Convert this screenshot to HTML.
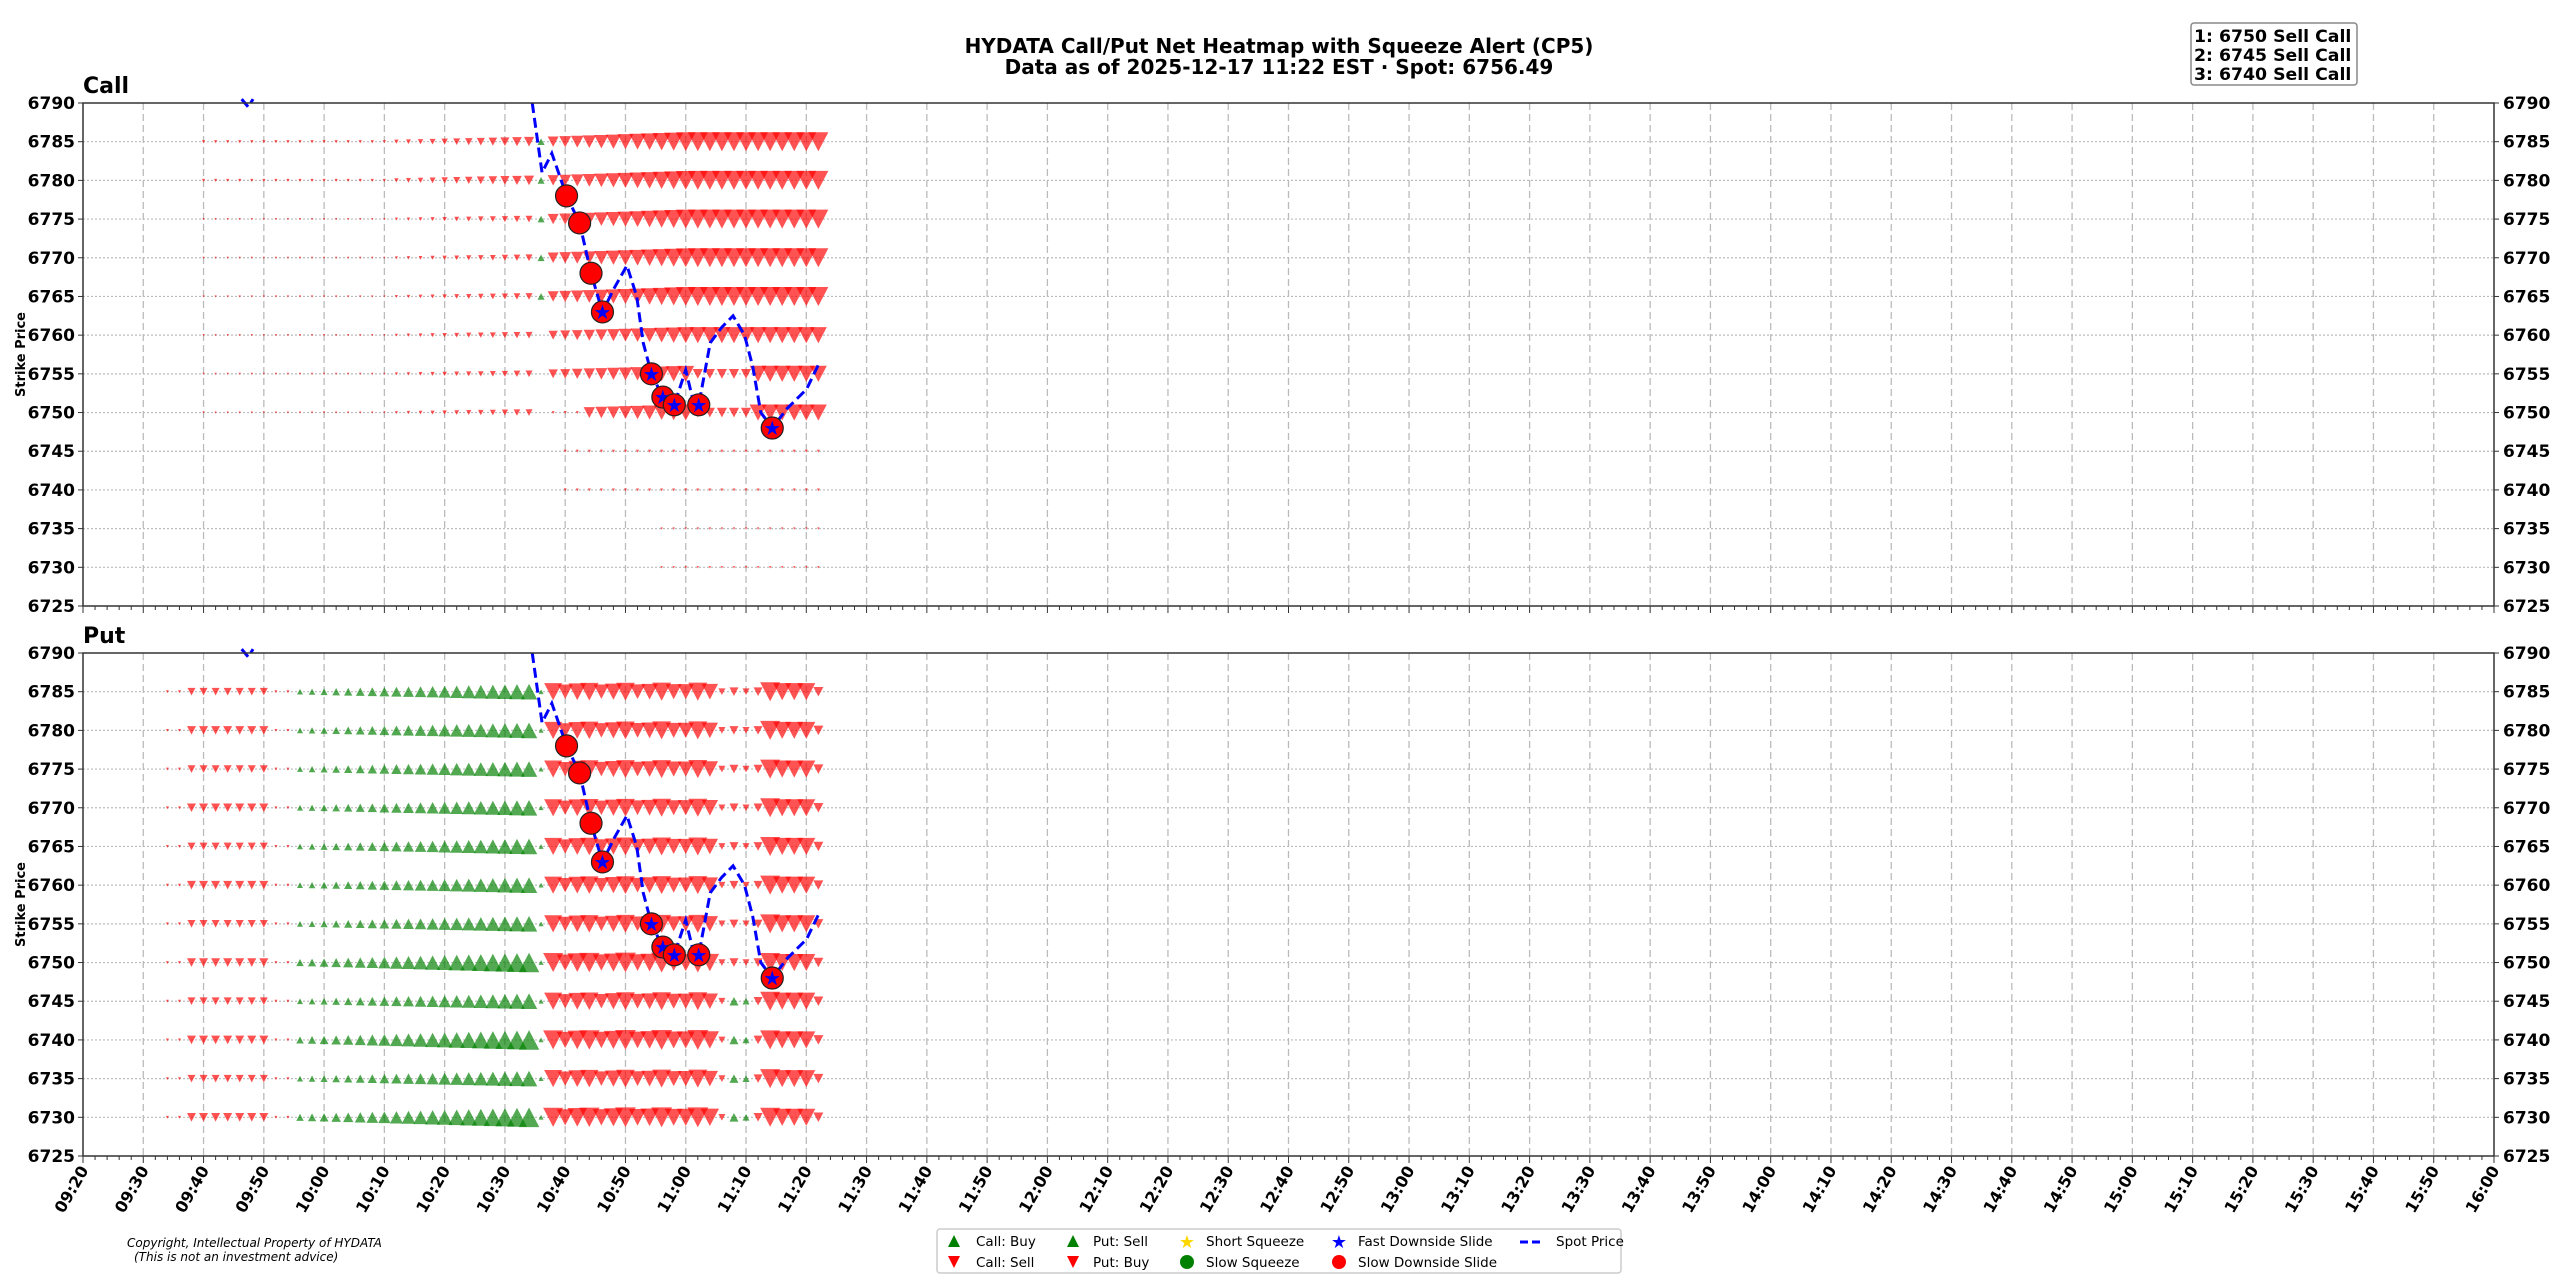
<!DOCTYPE html>
<html><head><meta charset="utf-8">
<style>
html,body{margin:0;padding:0;background:#fff;}
svg{display:block;font-family:"DejaVu Sans","Liberation Sans",sans-serif;}
</style></head>
<body>
<svg id="s" width="2560" height="1280" viewBox="0 0 2560 1280" xmlns="http://www.w3.org/2000/svg">
<rect width="2560" height="1280" fill="#fff"/>
<text x="1279" y="53" font-size="20" font-weight="bold" text-anchor="middle">HYDATA Call/Put Net Heatmap with Squeeze Alert (CP5)</text>
<text x="1279" y="74" font-size="20" font-weight="bold" text-anchor="middle">Data as of 2025-12-17 11:22 EST · Spot: 6756.49</text>
<rect x="2191" y="23" width="166" height="62" rx="3" fill="#fff" stroke="#888" stroke-width="1.5"/>
<text x="2194" y="42" font-size="17.3" font-weight="bold">1: 6750 Sell Call</text>
<text x="2194" y="61" font-size="17.3" font-weight="bold">2: 6745 Sell Call</text>
<text x="2194" y="80" font-size="17.3" font-weight="bold">3: 6740 Sell Call</text>
<g id="g"></g>
<text x="127" y="1247" font-size="12" font-style="italic">Copyright, Intellectual Property of HYDATA</text>
<text x="134" y="1261" font-size="12" font-style="italic">(This is not an investment advice)</text>
<rect x="937" y="1229" width="684" height="44" rx="3" fill="#fff" stroke="#ccc" stroke-width="1.5"/>
<g font-size="13.5">
<polygon points="954,1235 948,1247 960,1247" fill="green"/><text x="976" y="1246">Call: Buy</text>
<polygon points="948,1256 960,1256 954,1268" fill="red"/><text x="976" y="1267">Call: Sell</text>
<polygon points="1073,1235 1067,1247 1079,1247" fill="green"/><text x="1093" y="1246">Put: Sell</text>
<polygon points="1067,1256 1079,1256 1073,1268" fill="red"/><text x="1093" y="1267">Put: Buy</text>
<text x="1187" y="1248" font-size="18" fill="gold" text-anchor="middle">★</text><text x="1206" y="1246">Short Squeeze</text>
<circle cx="1187" cy="1262" r="7" fill="green"/><text x="1206" y="1267">Slow Squeeze</text>
<text x="1339" y="1248" font-size="18" fill="blue" text-anchor="middle">★</text><text x="1358" y="1246">Fast Downside Slide</text>
<circle cx="1339" cy="1262" r="7" fill="red"/><text x="1358" y="1267">Slow Downside Slide</text>
<line x1="1520" y1="1242" x2="1544" y2="1242" stroke="blue" stroke-width="3" stroke-dasharray="8,4"/><text x="1556" y="1246">Spot Price</text>
</g>
</svg>
<script>
var g=document.getElementById('g'),h='';
var L=83,R=2494,panels=[{T:103,B:606,name:'Call'},{T:653,B:1156,name:'Put'}];
function X(t){return L+t/400*(R-L);}
function dx(xd){return xd/0.6125;}
function Yf(p){return function(v){return p.T+(6790-v)/65*(p.B-p.T);};}
function tri(x,y,s,up,col){var hh=s*0.95;
 if(up)return '<polygon points="'+x+','+(y-hh/2)+' '+(x-s/2)+','+(y+hh/2)+' '+(x+s/2)+','+(y+hh/2)+'" fill="'+col+'" fill-opacity="0.68"/>';
 return '<polygon points="'+(x-s/2)+','+(y-hh/2)+' '+(x+s/2)+','+(y-hh/2)+' '+x+','+(y+hh/2)+'" fill="'+col+'" fill-opacity="0.68"/>';}
var spot=[[326,6790],[332,6781],[338,6783.5],[347,6778],[355,6774.5],[362,6768],[369,6763],[376,6766],[384,6769],[390,6765],[394,6759],[399,6755],[406,6752],[413,6751],[420,6755.5],[424,6752],[428,6751],[435,6759],[442,6761],[449,6762.5],[456,6760],[461,6756],[466,6750],[473,6748],[482,6750.5],[494,6753],[502,6756.5]];
var circ=[[347,6778,0],[355,6774.5,0],[362,6768,0],[369,6763,1],[399,6755,1],[406,6752,1],[413,6751,1],[428,6751,1],[473,6748,1]];
panels.forEach(function(p,pi){var Y=Yf(p);
 for(var t=10;t<400;t+=10){h+='<line x1="'+X(t)+'" y1="'+p.T+'" x2="'+X(t)+'" y2="'+p.B+'" stroke="#bbb" stroke-width="1.3" stroke-dasharray="7,4"/>';}
 for(var v=6730;v<=6785;v+=5){h+='<line x1="'+L+'" y1="'+Y(v)+'" x2="'+R+'" y2="'+Y(v)+'" stroke="#bbb" stroke-width="1.2" stroke-dasharray="2,2"/>';}
 for(var v=6730;v<=6785;v+=5){var y=Y(v);
  for(var t=14;t<=122;t+=2){var x=X(t),s=0,up=false,col='red';
   if(pi==0){
    if(v>=6750){
     if(t<76){ if(t>=20) s=(t>50?3+(t-50)/5:2.5)*(v>=6780?1.3:0.9);}
     else if(t==76){ if(v>=6765){s=7;up=true;col='green';} }
     else { s=11+Math.min(9,(t-78)/2.5); if(v<=6760) s*=0.85; if(v<=6755&&t>100&&t<112) s*=0.6; if(v==6750&&t<84) s=3;}
    } else {
     if(v>=6740 && t>=80) s=3; else if(t>=96) s=2.5;
    }
   } else {
    if(t<18) s=3;
    else if(t<=30){s=8+(v%10==0?1:0);}
    else if(t<=34) s=3;
    else if(t<=76){up=true;col='green';s=6+(t-36)/40*11; if(v==6740||v==6750||v==6730)s*=1.25; if(t==76)s=5;}
    else if(t<=104){s=17+Math.sin(t)*2; if(v==6740||v==6750||v==6730)s+=2;}
    else if(t<=112){s=(t%4==0)?9:7; if(t==110||t==108){if(v<=6745){up=true;col='green';}}}
    else {s=18+(t==114?2:0); if(t>=122)s=10;}
   }
   if(s>0) h+=tri(x,y,s,up,col);
  }}
 var d='M'+dx(148)+','+Y(6790.5)+' L'+dx(152)+','+Y(6789.5)+' L'+dx(155)+','+Y(6790.5)+' M';
 d+=spot.map(function(q){return dx(q[0])+','+Y(q[1]);}).join(' L');
 h+='<path d="'+d+'" fill="none" stroke="blue" stroke-width="3" stroke-dasharray="10,5"/>';
 circ.forEach(function(c){var cx=dx(c[0]),cy=Y(c[1]);h+='<circle cx="'+cx+'" cy="'+cy+'" r="11" fill="red" stroke="#222" stroke-width="1.2"/>';
  if(c[2])h+='<text x="'+cx+'" y="'+(cy+7)+'" font-size="20" fill="blue" text-anchor="middle">★</text>';});
 h+='<rect x="'+L+'" y="'+p.T+'" width="'+(R-L)+'" height="'+(p.B-p.T)+'" fill="none" stroke="#333" stroke-width="1.5"/>';
 for(var v=6725;v<=6790;v+=5){var y=Y(v);
  h+='<line x1="'+(L-5)+'" y1="'+y+'" x2="'+L+'" y2="'+y+'" stroke="#333"/><line x1="'+R+'" y1="'+y+'" x2="'+(R+5)+'" y2="'+y+'" stroke="#333"/>';
  h+='<text x="'+(L-8)+'" y="'+(y+6)+'" font-size="17" font-weight="bold" text-anchor="end">'+v+'</text>';
  h+='<text x="'+(R+9)+'" y="'+(y+6)+'" font-size="17" font-weight="bold">'+v+'</text>';}
 for(var t=0;t<=400;t+=2){var x=X(t),len=(t%10==0)?7:4;h+='<line x1="'+x+'" y1="'+p.B+'" x2="'+x+'" y2="'+(p.B+len)+'" stroke="#333"/>';}
 h+='<text x="83" y="'+(p.T-10)+'" font-size="22" font-weight="bold">'+p.name+'</text>';
 var cy=(p.T+p.B)/2;h+='<text transform="translate(25,'+cy+') rotate(-90)" font-size="13" font-weight="bold" text-anchor="middle">Strike Price</text>';
});
for(var t=0;t<=400;t+=10){var m=9*60+20+t,hh=Math.floor(m/60),mm=m%60;var lab=(hh<10?'0':'')+hh+':'+(mm<10?'0':'')+mm;
 var x=X(t)+6,y=1170;h+='<text transform="translate('+x+','+y+') rotate(-60)" font-size="16" font-weight="bold" text-anchor="end">'+lab+'</text>';}
g.innerHTML=h;
</script>
</body></html>
